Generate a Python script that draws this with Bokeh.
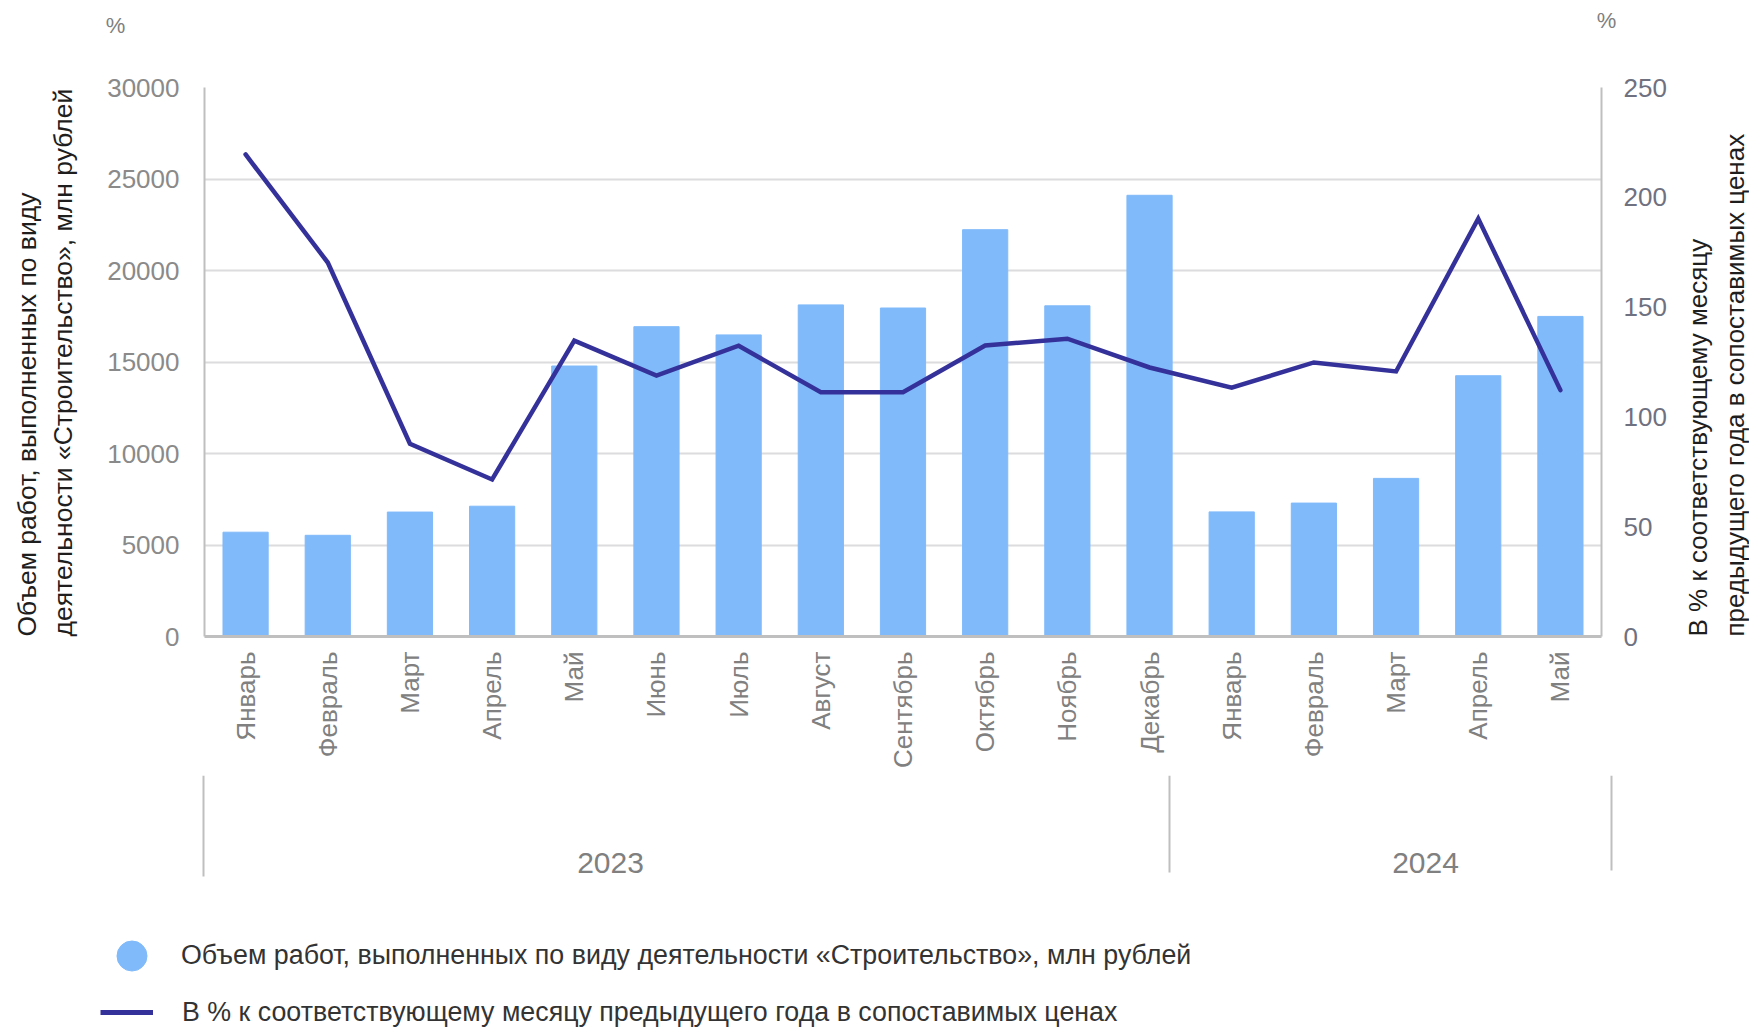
import math
from bokeh.plotting import figure
from bokeh.layouts import column, row
from bokeh.models import (Range1d, LinearAxis, FixedTicker, Legend, LegendItem)
from bokeh.core.properties import value
from bokeh.embed import file_html
from bokeh.resources import INLINE

# ---------------- data ----------------
months = ["Январь", "Февраль", "Март", "Апрель", "Май", "Июнь", "Июль", "Август",
          "Сентябрь", "Октябрь", "Ноябрь", "Декабрь",
          "Январь", "Февраль", "Март", "Апрель", "Май"]
years = ["2023", "2024"]
volume = [5700, 5530, 6800, 7120, 14780, 16930, 16480, 18120, 17950, 22230,
          18070, 24110, 6810, 7290, 8640, 14250, 17490]
pct = [219.5, 170.3, 87.8, 71.5, 134.7, 118.8, 132.4, 111.2, 111.2, 132.5,
       135.6, 122.5, 113.3, 124.8, 120.7, 190.3, 112.2]
left_ticks = [0, 5000, 10000, 15000, 20000, 25000, 30000]
right_ticks = [0, 50, 100, 150, 200, 250]

bar_label = "Объем работ, выполненных по виду деятельности «Строительство», млн рублей"
line_label = "В % к соответствующему месяцу предыдущего года в сопоставимых ценах"
left_title = "Объем работ, выполненных по виду\nдеятельности «Строительство», млн рублей"
right_title = "В % к соответствующему месяцу\nпредыдущего года в сопоставимых ценах"
unit_text = "%"

# ---------------- style / layout ----------------
BAR = "#80BAFA"
LINE = "#35319A"
GRID = "#DCDCDE"
AXIS = "#BFBFBF"
FONT = "Liberation Sans"

W = 1749
H_TOTAL = 1028
TOP_H = 45
FR_L, FR_R = 204, 1601          # frame left / right (px)
FR_T, FR_B = 87, 636            # frame top / bottom (px)
MAIN_BOTTOM = 775               # end of the month-label band
LEFT_W = 85                     # strip holding the left axis title
RIGHT_W = 66                    # strip holding the right axis title

# group separators: pixel x, pixel bottom
SEP = [(203, 876), (1169, 872), (1611, 870)]

xs = [i + 0.5 for i in range(len(months))]


def blank(width, height):
    f = figure(width=width, height=height, x_range=Range1d(0, width),
               y_range=Range1d(height, 0), output_backend="svg",
               toolbar_location=None, x_axis_location=None, y_axis_location=None,
               min_border_left=0, min_border_right=0, min_border_top=0,
               min_border_bottom=0)
    if "frame_align" in f.properties():
        f.frame_align = False
    f.grid.visible = False
    f.outline_line_color = None
    f.background_fill_color = "white"
    f.border_fill_color = "white"
    return f


# ---------------- top strip ("%" units) ----------------
top = blank(W, TOP_H)
top.text(x=[115, 1606], y=[25, 20], text=[unit_text, unit_text],
         text_align="center", text_baseline="middle",
         text_font=value(FONT), text_font_size="22px", text_color="#808080")

# ---------------- main chart ----------------
main_h = MAIN_BOTTOM - TOP_H
main_w = W - LEFT_W - RIGHT_W
p = figure(width=main_w, height=main_h, x_range=Range1d(0, len(months)),
           y_range=Range1d(left_ticks[0], left_ticks[-1]),
           output_backend="svg", toolbar_location=None,
           min_border_left=FR_L - LEFT_W, min_border_right=W - RIGHT_W - FR_R,
           min_border_top=FR_T - TOP_H, min_border_bottom=MAIN_BOTTOM - FR_B)
p.extra_y_ranges = {"pct": Range1d(right_ticks[0], right_ticks[-1])}
p.outline_line_color = None
p.background_fill_color = "white"
p.border_fill_color = "white"

p.xgrid.grid_line_color = None
p.ygrid.ticker = FixedTicker(ticks=left_ticks)
p.ygrid.grid_line_color = GRID
p.ygrid.grid_line_width = 2

p.vbar(x=xs, top=volume, width=0.55, fill_color=BAR, line_color=BAR)
p.line(x=xs, y=pct, y_range_name="pct", line_color=LINE, line_width=4.5,
       line_cap="round", line_join="miter")

ya = p.yaxis[0]
ya.ticker = FixedTicker(ticks=left_ticks)
ya.major_tick_line_color = None
ya.major_tick_out = 0
ya.major_tick_in = 0
ya.minor_tick_line_color = None
ya.axis_line_color = AXIS
ya.axis_line_width = 2
ya.major_label_standoff = 25
ya.major_label_text_font = FONT
ya.major_label_text_font_size = "26px"
ya.major_label_text_color = "#8A8A8A"

xa = p.xaxis[0]
xa.ticker = FixedTicker(ticks=xs)
xa.major_label_overrides = {x: m for x, m in zip(xs, months)}
xa.major_label_orientation = math.pi / 2
xa.major_tick_line_color = None
xa.major_tick_out = 0
xa.major_tick_in = 0
xa.minor_tick_line_color = None
xa.axis_line_color = AXIS
xa.axis_line_width = 3
xa.major_label_standoff = 15
xa.major_label_text_font = FONT
xa.major_label_text_font_size = "26px"
xa.major_label_text_color = "#808080"

ra = LinearAxis(y_range_name="pct", ticker=FixedTicker(ticks=right_ticks))
ra.major_tick_line_color = None
ra.major_tick_out = 0
ra.major_tick_in = 0
ra.minor_tick_line_color = None
ra.axis_line_color = AXIS
ra.axis_line_width = 2
ra.major_label_standoff = 22
ra.major_label_text_font = FONT
ra.major_label_text_font_size = "26px"
ra.major_label_text_color = "#6F7180"
p.add_layout(ra, "right")

# ---------------- side strips (axis titles, read bottom-to-top) ----------------
left_side = blank(LEFT_W, main_h)
left_side.text(x=[44.5], y=[FR_B - TOP_H], text=[left_title], angle=math.pi / 2,
               text_align="left", text_baseline="middle", text_line_height=1.22,
               text_font=value(FONT), text_font_size="26.5px", text_color="#1E1E1E")
right_side = blank(RIGHT_W, main_h)
right_side.text(x=[33], y=[FR_B - TOP_H], text=[right_title], angle=math.pi / 2,
                text_align="left", text_baseline="middle", text_line_height=1.25,
                text_font=value(FONT), text_font_size="26px", text_color="#1E1E1E")

# ---------------- bottom strip (groups + legend) ----------------
bot_h = H_TOTAL - MAIN_BOTTOM
bot = blank(W, bot_h)
bot.segment(x0=[s[0] for s in SEP], y0=[0] * len(SEP),
            x1=[s[0] for s in SEP], y1=[s[1] - MAIN_BOTTOM for s in SEP],
            line_color=AXIS, line_width=2)
bot.text(x=[610, 1425], y=[87, 87], text=years, text_align="center",
         text_baseline="middle", text_font=value(FONT), text_font_size="30px",
         text_color="#808080")

# legend-only renderers (their single point lies outside the visible strip)
dummy_bar = bot.scatter(x=[-500], y=[-500], marker="circle", size=30,
                        fill_color=BAR, line_color=BAR)
dummy_line = bot.line(x=[-600, -500], y=[-500, -500], line_color=LINE, line_width=5)

leg1 = Legend(items=[LegendItem(label=bar_label, renderers=[dummy_bar])],
              location=(94, bot_h - 181 - 37), glyph_width=75, glyph_height=75,
              label_standoff=12, padding=0, margin=0, spacing=0,
              border_line_color=None, background_fill_alpha=0,
              label_text_font=FONT, label_text_font_size="26.8px",
              label_text_color="#333333")
leg2 = Legend(items=[LegendItem(label=line_label, renderers=[dummy_line])],
              location=(100, bot_h - 237 - 16), glyph_width=53, glyph_height=32,
              label_height=32, label_standoff=29, padding=0, margin=0, spacing=0,
              border_line_color=None, background_fill_alpha=0,
              label_text_font=FONT, label_text_font_size="26.8px",
              label_text_color="#333333")
bot.add_layout(leg1)
bot.add_layout(leg2)

layout = column(top, row(left_side, p, right_side, spacing=0), bot, spacing=0)
open("out.html", "w").write(file_html(layout, INLINE))
